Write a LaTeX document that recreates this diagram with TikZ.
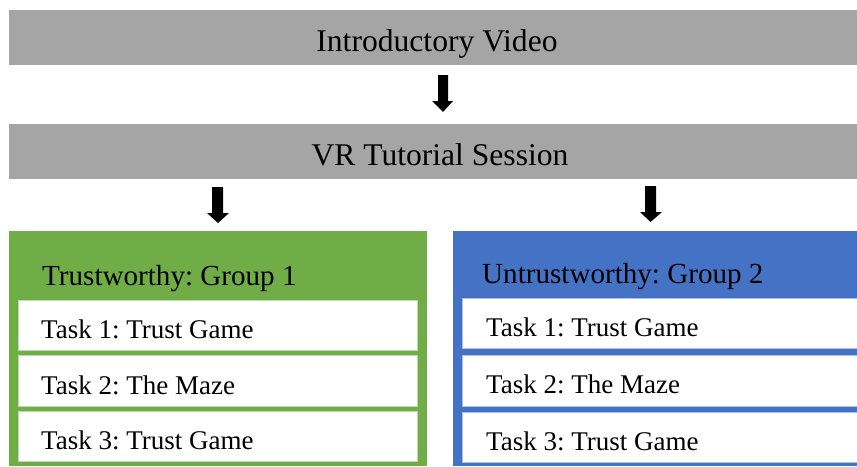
\documentclass[tikz,border=0pt]{standalone}
\usepackage{fontspec}
\setmainfont{Liberation Serif}
\frenchspacing
\definecolor{barGray}{HTML}{A5A5A5}
\definecolor{grpGreen}{HTML}{70AD47}
\definecolor{grpBlue}{HTML}{4472C4}
\tikzset{
  stagebar/.style={fill=barGray, draw=none},
  taskbox/.style={fill=white, line width=0.8pt},
  stagetext/.style={anchor=base, inner sep=0pt, font=\fontsize{31.6}{36}\selectfont},
  grouptext/.style={anchor=base west, inner sep=0pt, font=\fontsize{29.1}{33}\selectfont},
  tasktext/.style={anchor=base west, inner sep=0pt, font=\fontsize{27}{30}\selectfont},
  blockarrow/.style={fill=black, draw=none},
}
\begin{document}
\begin{tikzpicture}[x=1pt, y=-1pt]
  \useasboundingbox (0,0) rectangle (857,466);
  \fill[white] (0,0) rectangle (857,466);

  % stage bars
  \fill[stagebar] (9,10) rectangle (857,65);
  \node[stagetext] (intro) at (437,51) {Introductory Video};
  \fill[stagebar] (9,124) rectangle (857,179);
  \node[stagetext] (tutorial) at (440,165) {VR Tutorial Session};

  % block arrows between stages
  \fill[blockarrow] (438,75) -- (448,75) -- (448,101) -- (453,101) -- (443,112)
                     -- (432,101) -- (438,101) -- cycle;
  \fill[blockarrow] (212,187) -- (223,187) -- (223,213) -- (229,213) -- (218,223)
                     -- (207,213) -- (212,213) -- cycle;
  \fill[blockarrow] (645,186) -- (656,186) -- (656,212) -- (662,212) -- (650.5,222)
                     -- (640,212) -- (645,212) -- cycle;

  % group 1 panel
  \fill[grpGreen] (9,231) rectangle (427,466);
  \node[grouptext] (g1) at (42,285) {Trustworthy: Group 1};
  \filldraw[taskbox, draw=grpGreen!45] (18,300) rectangle (417,350);
  \filldraw[taskbox, draw=grpGreen!45] (18,355.5) rectangle (417,406);
  \filldraw[taskbox, draw=grpGreen!45] (18,411) rectangle (417,461);
  \node[tasktext] (g1t1) at (41,338) {Task 1: Trust Game};
  \node[tasktext] (g1t2) at (41,394) {Task 2: The Maze};
  \node[tasktext] (g1t3) at (41,449) {Task 3: Trust Game};

  % group 2 panel
  \fill[grpBlue] (453,231) rectangle (857,466);
  \node[grouptext] (g2) at (482,283) {Untrustworthy: Group 2};
  \filldraw[taskbox, draw=grpBlue!45] (462,298) rectangle (860,348);
  \filldraw[taskbox, draw=grpBlue!45] (462,355) rectangle (860,406);
  \filldraw[taskbox, draw=grpBlue!45] (462,412) rectangle (860,462);
  \node[tasktext] (g2t1) at (486,336) {Task 1: Trust Game};
  \node[tasktext] (g2t2) at (486,393) {Task 2: The Maze};
  \node[tasktext] (g2t3) at (486,450) {Task 3: Trust Game};
\end{tikzpicture}
\end{document}
